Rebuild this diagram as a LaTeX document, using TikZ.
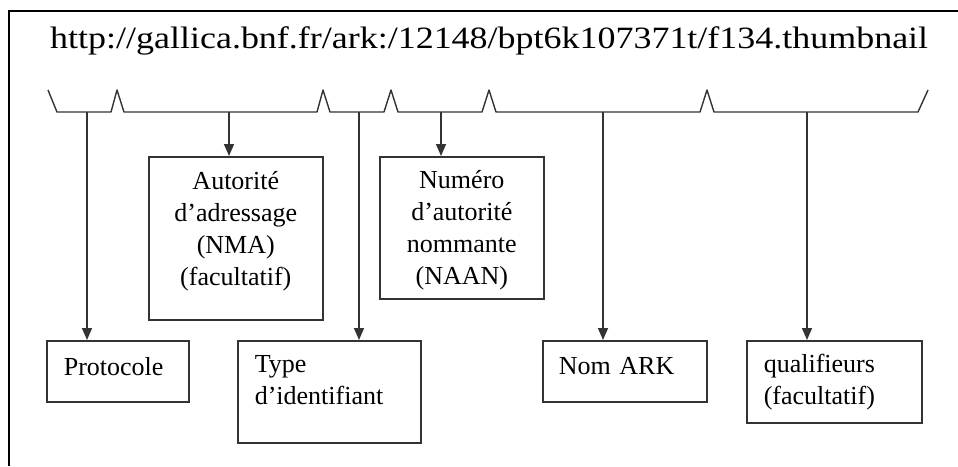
\documentclass[tikz,border=0pt]{standalone}
\usepackage{fontspec}
\setmainfont{Liberation Serif}
\usetikzlibrary{arrows.meta,positioning}
\begin{document}
\begin{tikzpicture}[x=1pt, y=-1pt,
    box/.style={draw=black!80, line width=1.6pt, inner ysep=0pt, font=\fontsize{26}{32}\selectfont},
    topbox/.style={box, inner xsep=0pt, align=center},
    botbox/.style={box, inner xsep=17pt, align=left},
    flow/.style={draw=black!80, line width=1.6pt, -{Triangle[length=12pt,width=10pt]}}]
    \useasboundingbox (0,0) rectangle (958,466);
    \draw[line width=2.4pt] (958,11) -- (9,11) -- (9,466);

    \node[anchor=base west, inner sep=0pt, font=\fontsize{31}{36}\selectfont] (url) at (50,48)
        {\scalebox{1.16}[1]{http://gallica.bnf.fr/ark:/12148/bpt6k107371t/f134.thumbnail}};

    % the parts of the address
    \draw[line width=1.4pt, black!80, line join=round] (48,90) -- (57,112) -- (111,112) -- (117,90) -- (124,112)
        -- (317,112) -- (323,90) -- (330,112) -- (384,112) -- (391,90) -- (398,112)
        -- (482,112) -- (489,90) -- (496,112) -- (700,112) -- (707,90) -- (714,112)
        -- (918,112) -- (928,90);
    \coordinate (proto-c) at (87,112);
    \coordinate (nma-c) at (229,112);
    \coordinate (type-c) at (359,112);
    \coordinate (naan-c) at (441,112);
    \coordinate (ark-c) at (603,112);
    \coordinate (qual-c) at (807,112);

    \node[topbox, anchor=north west, text width=174pt, text height=33pt, text depth=130pt] (nma) at (148,156)
        {Autorité\\d’adressage\\(NMA)\\(facultatif)};
    \node[topbox, anchor=north west, text width=164pt, text height=32pt, text depth=110pt] (naan) at (379,156)
        {Numéro\\d’autorité\\nommante\\(NAAN)};
    \node[botbox, anchor=north west, text width=108pt, text height=35pt, text depth=26pt] (proto) at (46,340)
        {Protocole};
    \node[botbox, anchor=north west, text width=149pt, text height=32pt, text depth=70pt, inner xsep=17pt] (type) at (237,340)
        {Type\\d’identifiant};
    \node[botbox, anchor=north west, text width=132pt, text height=34pt, text depth=27pt, inner xsep=16pt] (ark) at (542,340)
        {Nom ARK};
    \node[botbox, anchor=north west, text width=141pt, text height=32pt, text depth=50pt] (qual) at (746,340)
        {qualifieurs\\(facultatif)};

    \draw[flow] (proto-c) -- (proto-c |- proto.north);
    \draw[flow] (nma-c) -- (nma-c |- nma.north);
    \draw[flow] (type-c) -- (type-c |- type.north);
    \draw[flow] (naan-c) -- (naan-c |- naan.north);
    \draw[flow] (ark-c) -- (ark-c |- ark.north);
    \draw[flow] (qual-c) -- (qual-c |- qual.north);
\end{tikzpicture}
\end{document}
